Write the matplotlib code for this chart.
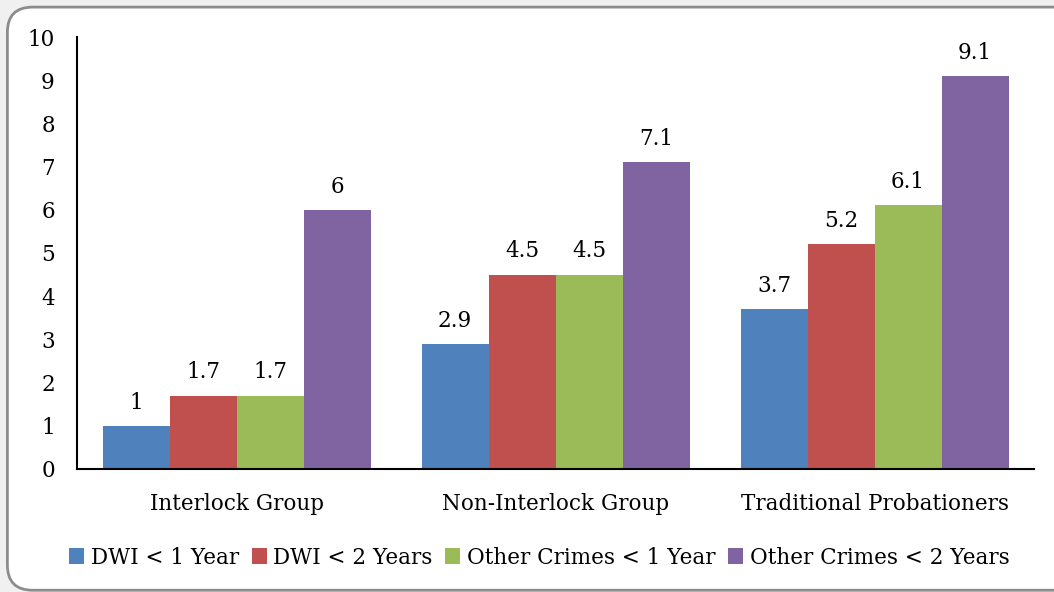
import matplotlib
matplotlib.use("Agg")
import matplotlib.pyplot as plt
import numpy as np
from matplotlib.patches import FancyBboxPatch

groups = ["Interlock Group", "Non-Interlock Group", "Traditional Probationers"]
series = ["DWI < 1 Year", "DWI < 2 Years", "Other Crimes < 1 Year", "Other Crimes < 2 Years"]
dwi_1yr = [1, 2.9, 3.7]
dwi_2yr = [1.7, 4.5, 5.2]
other_1yr = [1.7, 4.5, 6.1]
other_2yr = [6, 7.1, 9.1]
colors = ["#4F81BD", "#C0504D", "#9BBB59", "#8064A2"]

plt.rcParams['font.family'] = ['DejaVu Serif']
fs = 15.5

fig = plt.figure(figsize=(10.54, 5.92), dpi=100)
fig.patch.set_facecolor("#f0f0f0")
# rounded frame behind the axes
frame = FancyBboxPatch((0.007, 0.003), 1.2, 0.985, boxstyle="round,pad=0,rounding_size=0.024",
                       transform=fig.transFigure, facecolor="white", edgecolor="#8c8c8c",
                       linewidth=2, mutation_aspect=1054/592, zorder=-10)
fig.patches.append(frame)

ax = fig.add_axes([0.0731, 0.2078, 0.908, 0.7297])
ax.set_facecolor("none")
ax.set_zorder(1)

x = np.arange(len(groups))
w = 0.21
data = [dwi_1yr, dwi_2yr, other_1yr, other_2yr]
for i, (vals, name, c) in enumerate(zip(data, series, colors)):
    bars = ax.bar(x + (i - 1.5) * w, vals, w, color=c, label=name)
    for b, v in zip(bars, vals):
        ax.text(b.get_x() + b.get_width() / 2, v + 0.28, f"{v:g}",
                ha="center", va="bottom", fontsize=fs)

ax.set_xlim(-0.5, 2.5)
ax.set_ylim(0, 10)
ax.set_yticks(range(0, 11))
ax.set_xticks(x)
ax.set_xticklabels(groups, fontsize=fs)
ax.tick_params(axis="y", labelsize=fs, length=0, pad=16)
ax.tick_params(axis="x", length=0, pad=17)
for s in ["top", "right"]:
    ax.spines[s].set_visible(False)
for s in ["left", "bottom"]:
    ax.spines[s].set_linewidth(1.5)

ax.legend(loc="center", bbox_to_anchor=(0.483, -0.205), ncol=4, frameon=False,
          fontsize=fs, handlelength=0.7, handleheight=0.7, handletextpad=0.3,
          columnspacing=0.6)

fig.savefig("out.png", dpi=100, facecolor=fig.get_facecolor())
